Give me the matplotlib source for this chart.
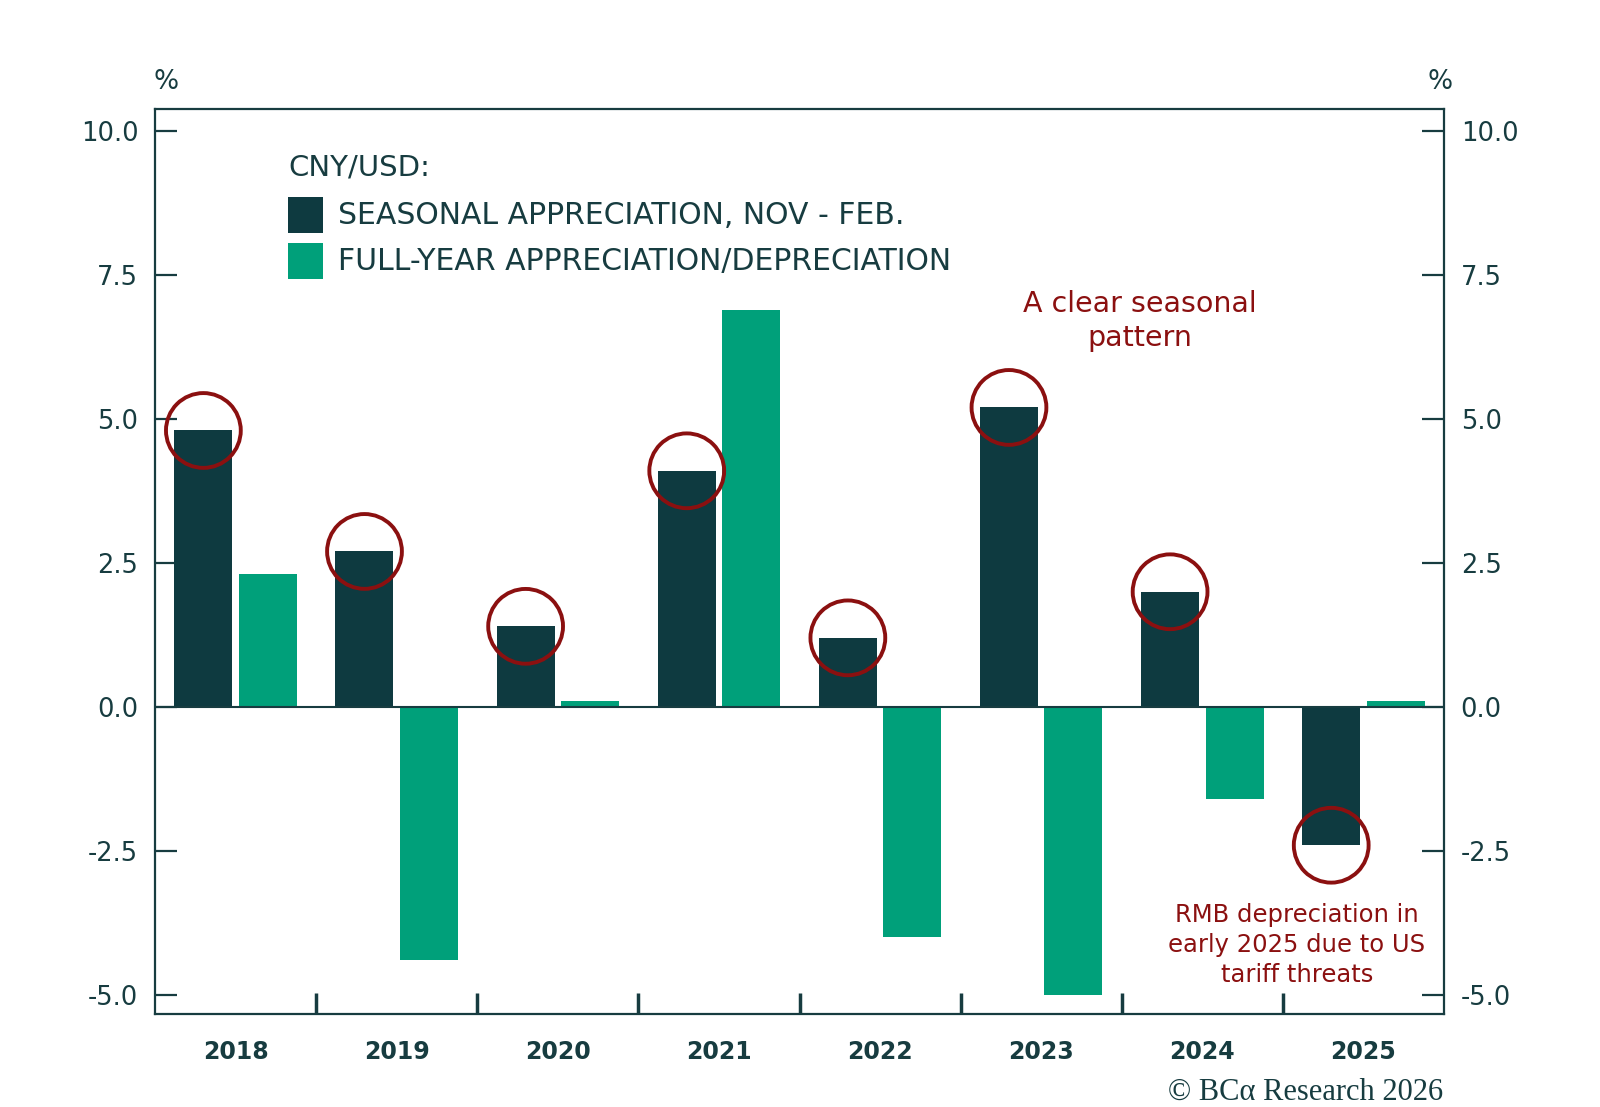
import matplotlib
matplotlib.use("Agg")
import matplotlib.pyplot as plt
import numpy as np

years = ["2018", "2019", "2020", "2021", "2022", "2023", "2024", "2025"]
seasonal = [4.8, 2.7, 1.4, 4.1, 1.2, 5.2, 2.0, -2.4]
full_year = [2.3, -4.4, 0.1, 6.9, -4.0, -5.0, -1.6, 0.1]
yticks = [-5.0, -2.5, 0.0, 2.5, 5.0, 7.5, 10.0]
legend_title = "CNY/USD:"
legend_labels = ["SEASONAL APPRECIATION, NOV - FEB.", "FULL-YEAR APPRECIATION/DEPRECIATION"]
note_top = "A clear seasonal\npattern"
note_bottom = "RMB depreciation in\nearly 2025 due to US\ntariff threats"

DARK = "#0e3a40"
GREEN = "#00a07a"
TEXT = "#173c40"
RED = "#8b1010"

plt.rcParams['font.family'] = ['DejaVu Sans']

fig = plt.figure(figsize=(16, 11.07), dpi=100)
ax = fig.add_axes([0.0969, 0.0840, 0.9025 - 0.0969, 0.9015 - 0.0840])

x = np.arange(len(years))
w = 0.36
off = 0.2
ax.bar(x - off, seasonal, width=w, color=DARK, zorder=2)
ax.bar(x + off, full_year, width=w, color=GREEN, zorder=2)

# circles at the end of each seasonal bar
ax.scatter(x - off, seasonal, s=2900, facecolors='none', edgecolors=RED,
           linewidths=2.8, zorder=4, clip_on=False)

ax.axhline(0, color=TEXT, lw=1.5, zorder=3)

ax.set_xlim(-0.5, len(years) - 0.5)
ax.set_ylim(-5.33, 10.38)

ax.set_yticks(yticks)
ax.set_yticklabels([f"{v:.1f}" for v in yticks])
ax.tick_params(axis='y', which='both', direction='in', length=16, width=1.6,
               color=TEXT, labelcolor=TEXT, labelsize=18.5, pad=12,
               left=True, right=True, labelleft=True, labelright=True)

ax.set_xticks(x)
ax.set_xticklabels(years)
ax.set_xticks(x[:-1] + 0.5, minor=True)
ax.tick_params(axis='x', which='major', length=0, labelsize=17, labelcolor=TEXT, pad=19)
ax.tick_params(axis='x', which='minor', direction='in', length=15, width=2.5, color=TEXT)
for lab in ax.get_xticklabels():
    lab.set_fontweight('bold')

for s in ax.spines.values():
    s.set_color(TEXT)
    s.set_linewidth(1.6)

# % labels
fig.text(166 / 1600, 1 - 82 / 1107, "%", ha='center', va='center', fontsize=19, color=TEXT)
fig.text(1440 / 1600, 1 - 82 / 1107, "%", ha='center', va='center', fontsize=19, color=TEXT)

# legend
fig.text(288 / 1600, 1 - 168 / 1107, legend_title, ha='left', va='center', fontsize=21, color=TEXT)
for i, (lab, col) in enumerate(zip(legend_labels, [DARK, GREEN])):
    yc = [215, 261][i]
    fig.patches.append(plt.Rectangle((288 / 1600, 1 - (yc + 17.5) / 1107), 35 / 1600, 35 / 1107,
                                     transform=fig.transFigure, facecolor=col, edgecolor='none'))
    fig.text(338 / 1600, 1 - yc / 1107, lab, ha='left', va='center', fontsize=21.5, color=TEXT)

# annotations
fig.text(1140 / 1600, 1 - 321 / 1107, note_top, ha='center', va='center', fontsize=20.5,
         color=RED, linespacing=1.25)
fig.text(1297 / 1600, 1 - 945 / 1107, note_bottom, ha='center', va='center', fontsize=17.5,
         color=RED, linespacing=1.32)

fig.text(1443 / 1600, 1 - 1092 / 1107, "© BCα Research 2026", ha='right', va='center',
         fontsize=22, color=TEXT, family=['Liberation Serif', 'DejaVu Serif'])

fig.savefig("out.png", dpi=100, facecolor='white')
